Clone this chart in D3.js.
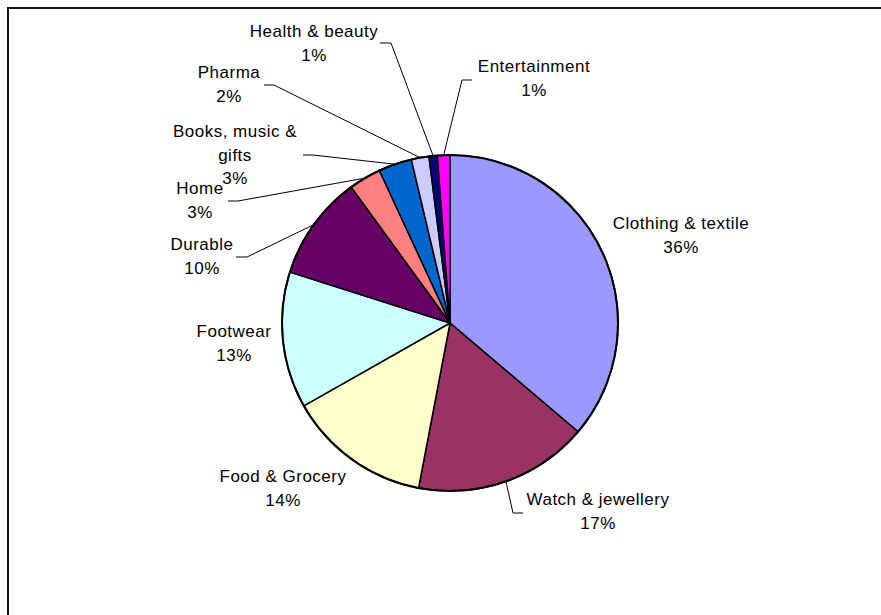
<!DOCTYPE html>
<html>
<head>
<meta charset="utf-8">
<script src="https://cdn.jsdelivr.net/npm/d3@7"></script>
<style>
  body { margin: 0; background: #fff; }
  svg text { font-family: "Liberation Sans", Arial, sans-serif; font-size: 17px; letter-spacing: 0.5px; fill: #000; }
</style>
</head>
<body>
<svg id="chart" width="881" height="615"></svg>
<script>
// data (share of sales, %), clockwise from 12 o'clock
const categories = ["Clothing & textile", "Watch & jewellery", "Food & Grocery", "Footwear", "Durable",
  "Home", "Books, music & gifts", "Pharma", "Health & beauty", "Entertainment"];
const shares = [36.2, 16.8, 13.8, 13.1, 10.1, 3.1, 3.2, 1.7, 0.8, 1.2];
const colors = ["#9999FF", "#993366", "#FFFFCC", "#CCFFFF", "#660066",
  "#FF8080", "#0066CC", "#CCCCFF", "#000080", "#FF00FF"];

// label layout: text lines, centre x, first baseline, leader elbow + tail (null = no leader)
const labelLines = [["Clothing & textile"], ["Watch & jewellery"], ["Food & Grocery"], ["Footwear"], ["Durable"],
  ["Home"], ["Books, music &", "gifts"], ["Pharma"], ["Health & beauty"], ["Entertainment"]];
const labelX = [681, 598, 283, 234, 202, 200, 235, 229, 314, 534];
const labelY = [229, 505, 482, 337, 250, 194, 137, 78, 37, 72];
const leaders = [null, [[513, 513], [523, 513]], null, null, [[247, 257], [236, 257]],
  [[238, 201], [228, 201]], [[313, 155], [303, 155]], [[274, 85], [264, 85]],
  [[391, 43], [380, 43]], [[462, 80], [472, 80]]];

const svg = d3.select("#chart");
const cx = 450, cy = 323, r = 168, lh = 23.5;

// chart frame (only top and left edges fall in the window)
svg.append("rect")
  .attr("x", 8).attr("y", 8)
  .attr("width", 1000).attr("height", 1000)
  .attr("fill", "none").attr("stroke", "#111").attr("stroke-width", 2);

const pie = d3.pie().sort(null).value(d => d)(shares);
const arc = d3.arc().innerRadius(0).outerRadius(r);

const g = svg.append("g").attr("transform", `translate(${cx},${cy})`);
g.selectAll("path")
  .data(pie)
  .enter()
  .append("path")
  .attr("d", arc)
  .attr("fill", (d, i) => colors[i])
  .attr("stroke", "#000")
  .attr("stroke-width", 1.5)
  .attr("stroke-linejoin", "round");

// heavier outer rim
g.append("circle")
  .attr("r", r)
  .attr("fill", "none")
  .attr("stroke", "#000")
  .attr("stroke-width", 2);

// leader lines from slice edge midpoint
const line = d3.line();
pie.forEach((d, i) => {
  if (!leaders[i]) return;
  const a = (d.startAngle + d.endAngle) / 2;
  const p0 = [cx + r * Math.sin(a), cy - r * Math.cos(a)];
  svg.append("path")
    .attr("d", line([p0].concat(leaders[i])))
    .attr("fill", "none")
    .attr("stroke", "#000")
    .attr("stroke-width", 1);
});

// labels
pie.forEach((d, i) => {
  const t = svg.append("text")
    .attr("text-anchor", "middle")
    .attr("x", labelX[i])
    .attr("y", labelY[i]);
  const lines = labelLines[i].concat([Math.round(shares[i]) + "%"]);
  lines.forEach((s, k) => {
    t.append("tspan")
      .attr("x", labelX[i])
      .attr("y", labelY[i] + k * lh)
      .text(s);
  });
});
</script>
</body>
</html>
